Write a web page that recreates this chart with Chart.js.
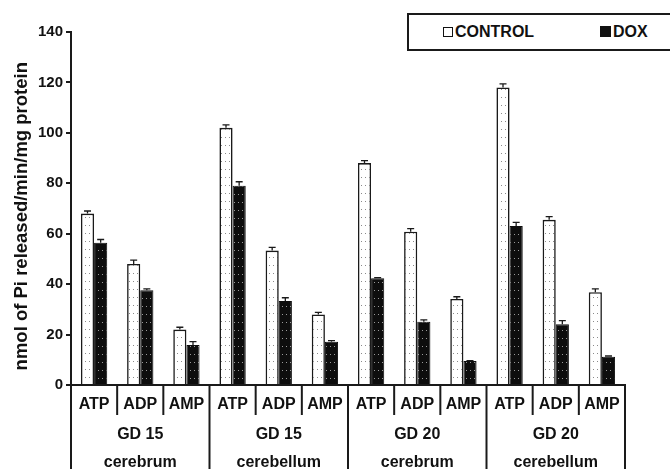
<!DOCTYPE html>
<html>
<head>
<meta charset="utf-8">
<script src="https://cdn.jsdelivr.net/npm/chart.js@4.4.0/dist/chart.umd.min.js"></script>
<style>
html, body { margin: 0; padding: 0; overflow: hidden; background: #fff; }
#wrap { position: relative; width: 670px; height: 484px; }
#legend {
    position: absolute; left: 407px; top: 13px; width: 290px; height: 34px;
    border: 2px solid #1a1a1a; background: #fff;
    font: bold 16px "Liberation Sans", Arial, sans-serif; color: #111;
}
.item { position: absolute; top: 8px; line-height: 18px; }
.box { display: inline-block; box-sizing: border-box; width: 10px; height: 10px; margin-right: 2px; vertical-align: 0px; border: 1.5px solid #111; }
</style>
</head>
<body>
<div id="wrap">
    <canvas id="canvas" width="670" height="484"></canvas>
    <div id="legend">
        <span class="item" style="left:34px"><span class="box" style="background:#fff"></span>CONTROL</span>
        <span class="item" style="left:191px"><span class="box" style="background:#111;width:11px;height:11px"></span>DOX</span>
    </div>
</div>
<script>
const nucleotides = ["ATP", "ADP", "AMP"];
const groups = [["GD 15", "cerebrum"], ["GD 15", "cerebellum"], ["GD 20", "cerebrum"], ["GD 20", "cerebellum"]];
const categories = ["ATP", "ADP", "AMP", "ATP", "ADP", "AMP", "ATP", "ADP", "AMP", "ATP", "ADP", "AMP"];

const controlValues = [68, 48, 22, 102, 53.3, 28, 88, 60.8, 34.1, 118, 65.5, 36.8];
const controlErrors = [1, 1.5, 0.9, 1.2, 1.3, 0.8, 1, 1.2, 0.9, 1.4, 1.3, 1.3];
const doxValues = [56.4, 37.6, 15.9, 79, 33.3, 17.2, 42.3, 25.1, 9.5, 63.1, 24.1, 11.2];
const doxErrors = [1.3, 0.5, 1.3, 1.6, 1.3, 0.4, 0.3, 0.7, 0.2, 1.4, 1.4, 0.3];

const yMax = 140;
const yStep = 20;

function dots(bg, dot, a, b) {
    const c = document.createElement("canvas");
    c.width = 8; c.height = 8;
    const g = c.getContext("2d");
    g.fillStyle = bg; g.fillRect(0, 0, 8, 8);
    g.fillStyle = dot;
    g.fillRect(a, a, 1, 1);
    g.fillRect(b, b - 4, 1, 1);
    return ctx.createPattern(c, "repeat");
}

let CanvasEl = document.getElementById("canvas");
var ctx = CanvasEl.getContext("2d");
const controlFill = dots("#ffffff", "#8a8a8a", 1, 5);
const doxFill = dots("#0d0d0d", "#9a9a9a", 2, 6);

// error bars only point upward, like the original figure
const errorBars = {
    id: "errorBars",
    afterDatasetsDraw(chart) {
        const c = chart.ctx;
        const y = chart.scales.y;
        chart.data.datasets.forEach((ds, di) => {
            chart.getDatasetMeta(di).data.forEach((bar, i) => {
                const top = y.getPixelForValue(ds.data[i] + ds.errors[i]);
                c.save();
                c.strokeStyle = "#1a1a1a";
                c.lineWidth = 1.3;
                c.beginPath();
                c.moveTo(bar.x, bar.y);
                c.lineTo(bar.x, top);
                c.moveTo(bar.x - 3.5, top);
                c.lineTo(bar.x + 3.5, top);
                c.stroke();
                c.restore();
            });
        });
    }
};

// table lines under the x axis
const separators = {
    id: "separators",
    afterDraw(chart) {
        const c = chart.ctx;
        const x = chart.scales.x;
        const base = chart.chartArea.bottom;
        const n = categories.length;
        c.save();
        c.strokeStyle = "#1a1a1a";
        c.lineWidth = 2;
        for (let i = 0; i <= n; i++) {
            let px;
            if (i === 0) px = x.left;
            else if (i === n) px = x.right;
            else px = (x.getPixelForValue(i - 1) + x.getPixelForValue(i)) / 2;
            const long = i % nucleotides.length === 0;
            c.beginPath();
            c.moveTo(px, base);
            c.lineTo(px, long ? chart.height : base + 30);
            c.stroke();
        }
        c.restore();
    }
};

const font = { family: '"Liberation Sans", Arial, sans-serif', size: 16, weight: "bold" };

Chart.defaults.color = "#111";

let chart = new Chart(ctx, {
    type: "bar",
    data: {
        labels: categories,
        datasets: [
            {
                label: "CONTROL",
                data: controlValues,
                errors: controlErrors,
                backgroundColor: controlFill,
                borderColor: "#1a1a1a",
                borderWidth: 1.6,
                borderSkipped: "bottom",
                categoryPercentage: 0.57,
                barPercentage: 1.0,
            },
            {
                label: "DOX",
                data: doxValues,
                errors: doxErrors,
                backgroundColor: doxFill,
                borderColor: "#0d0d0d",
                borderWidth: 1,
                borderSkipped: "bottom",
                categoryPercentage: 0.57,
                barPercentage: 1.0,
            }
        ],
    },
    options: {
        responsive: false,
        animation: false,
        layout: { padding: { left: 0, right: 45, top: 32, bottom: 0 } },
        plugins: {
            legend: { display: false },
            tooltip: { enabled: false },
        },
        scales: {
            x: {
                grid: { display: false, drawTicks: false },
                border: { color: "#1a1a1a", width: 2 },
                ticks: { font: font, padding: 10, maxRotation: 0, autoSkip: false },
                afterFit(scale) { scale.height = 30; },
            },
            x2: {
                type: "category",
                position: "bottom",
                labels: groups,
                offset: true,
                grid: { display: false, drawTicks: false },
                border: { display: false },
                ticks: { font: { ...font, lineHeight: 1.75 }, padding: 6, maxRotation: 0 },
                afterFit(scale) { scale.height = 69; },
            },
            y: {
                min: 0,
                max: yMax,
                border: { color: "#1a1a1a", width: 2 },
                grid: { drawOnChartArea: false, tickLength: 5, color: "#1a1a1a", lineWidth: 2 },
                ticks: { stepSize: yStep, font: { ...font, size: 15 }, padding: 3 },
                title: {
                    display: true,
                    text: "nmol of Pi released/min/mg protein   ",
                    font: { ...font, size: 18.5 },
                    padding: { top: 11, bottom: 0 },
                },
                afterFit(scale) { scale.width = 71; },
            },
        },
    },
    plugins: [errorBars, separators],
});
</script>
</body>
</html>
